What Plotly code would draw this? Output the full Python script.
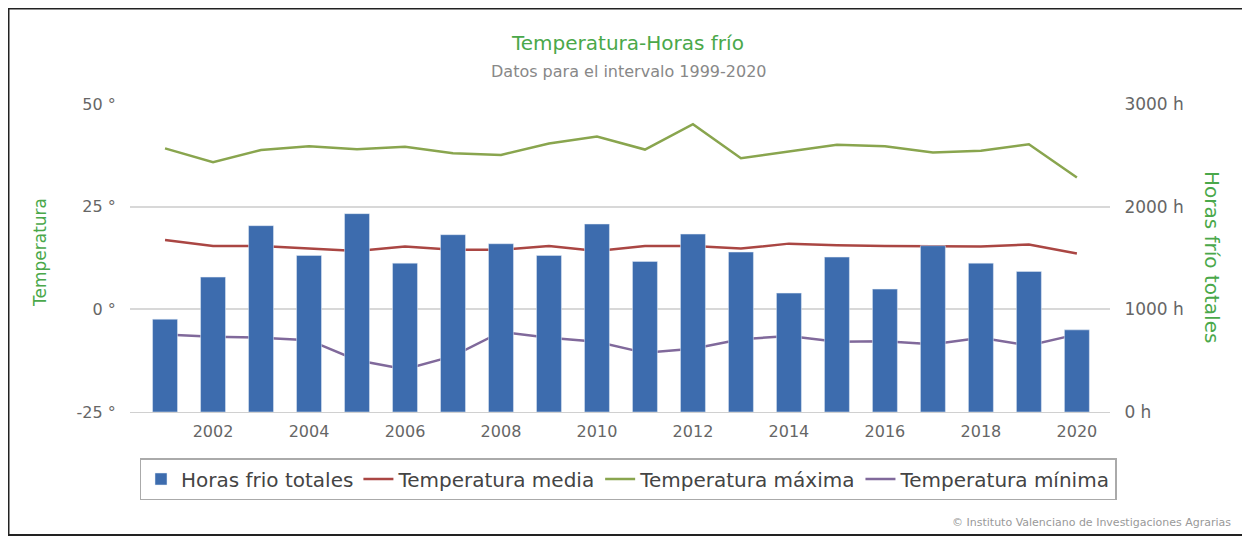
import plotly.graph_objects as go

years = list(range(2001, 2021))
horas_frio = [904, 1314, 1815, 1525, 1932, 1450, 1727, 1639, 1525, 1831,
              1467, 1733, 1558, 1158, 1509, 1197, 1620, 1450, 1369, 800]
temp_media = [16.9, 15.4, 15.4, 14.8, 14.2, 15.3, 14.5, 14.5, 15.4, 14.2,
              15.4, 15.4, 14.8, 16.0, 15.6, 15.4, 15.4, 15.3, 15.8, 13.6]
temp_max = [39.2, 35.8, 38.8, 39.7, 39.0, 39.6, 38.0, 37.6, 40.4, 42.1,
            38.9, 45.1, 36.8, 38.4, 40.1, 39.7, 38.2, 38.6, 40.2, 32.1]
temp_min = [-6.1, -6.7, -6.9, -7.5, -12.4, -14.6, -11.4, -5.5, -6.9, -7.9,
            -10.6, -9.6, -7.3, -6.5, -7.9, -7.8, -8.5, -6.9, -8.8, -6.1]

temp_ticks = [-25, 0, 25, 50]
horas_ticks = [0, 1000, 2000, 3000]

# the page body adds 8px on top/left, so the figure is a bit smaller
OFF = 8
W, H = 1242, 528
ML, MR, MT, MB = 122, 140, 96, 124
PW, PH = W - ML - MR, H - MT - MB

def px(x):
    # page pixel -> paper fraction
    return (x - OFF - ML) / PW

def py(y):
    return (H - MB - (y - OFF)) / PH

fig = go.Figure()
fig.add_trace(go.Bar(x=years, y=horas_frio, name='Horas frio totales', yaxis='y2',
                     marker_color='#3d6cae', width=0.52, hoverinfo='none'))
fig.add_trace(go.Scatter(x=years, y=temp_media, name='Temperatura media', mode='lines',
                         line=dict(color='#AA4643', width=2.5), hoverinfo='none'))
fig.add_trace(go.Scatter(x=years, y=temp_max, name='Temperatura máxima', mode='lines',
                         line=dict(color='#89A54E', width=2.5), hoverinfo='none'))
fig.add_trace(go.Scatter(x=years, y=temp_min, name='Temperatura mínima', mode='lines',
                         line=dict(color='#80699B', width=2.5), hoverinfo='none'))

gray = '#666666'
green = '#4aa84a'

fig.update_layout(
    width=W, height=H,
    margin=dict(l=ML, r=MR, t=MT, b=MB, autoexpand=False),
    paper_bgcolor='white', plot_bgcolor='white',
    font=dict(family='DejaVu Sans', color=gray),
    xaxis=dict(range=[2000.27, 2020.69], tickvals=list(range(2002, 2021, 2)),
               showgrid=False, zeroline=False, showline=True, linecolor='#d0d0d0',
               ticks='outside', ticklen=5, tickcolor='white',
               tickfont=dict(size=16, color=gray)),
    yaxis=dict(range=[-25, 50], tickvals=temp_ticks,
               ticktext=[f'{t} °' for t in temp_ticks],
               showgrid=True, gridcolor='#d8d8d8', gridwidth=2, zeroline=False,
               ticks='outside', ticklen=10, tickcolor='white',
               tickfont=dict(size=16, color=gray)),
    yaxis2=dict(range=[0, 3000], tickvals=horas_ticks,
                ticktext=[f'{t} h' for t in horas_ticks],
                overlaying='y', side='right', showgrid=False, zeroline=False,
                ticks='outside', ticklen=10, tickcolor='white',
                tickfont=dict(size=17, color=gray)),
    barmode='overlay',
    showlegend=True,
    legend=dict(orientation='h', x=px(628), xanchor='center', y=py(458), yanchor='top',
                bordercolor='#aaaaaa', borderwidth=1.5, bgcolor='white',
                font=dict(family='DejaVu Sans', size=20, color='#444444'),
                itemwidth=30, tracegroupgap=0),
    annotations=[
        dict(text='Temperatura-Horas frío', x=px(627), y=py(43), xref='paper', yref='paper',
             yanchor='middle', showarrow=False,
             font=dict(family='DejaVu Sans', size=20, color=green)),
        dict(text='Datos para el intervalo 1999-2020', x=px(629), y=py(72), xref='paper',
             yanchor='middle', yref='paper', showarrow=False,
             font=dict(family='DejaVu Sans', size=16, color='#888888')),
        dict(text='Temperatura', x=px(40), y=py(253), xref='paper', yref='paper',
             xanchor='center', yanchor='middle', showarrow=False, textangle=-90,
             font=dict(size=17, color=green)),
        dict(text='Horas frío totales', x=px(1212), y=py(257), xref='paper', yref='paper',
             xanchor='center', yanchor='middle', showarrow=False, textangle=90,
             font=dict(size=20, color=green)),
        dict(text='© Instituto Valenciano de Investigaciones Agrarias', x=px(1233),
             y=py(522), xref='paper', yref='paper', xanchor='right', yanchor='middle',
             showarrow=False, font=dict(size=11, color='#999999')),
    ],
    shapes=[
        dict(type='rect', xref='paper', yref='paper', x0=px(8.5), x1=px(1243),
             y0=py(535), y1=py(8.5), line=dict(color='#222222', width=2)),
    ],
)

fig.write_html('out.html', config={'displayModeBar': False})
